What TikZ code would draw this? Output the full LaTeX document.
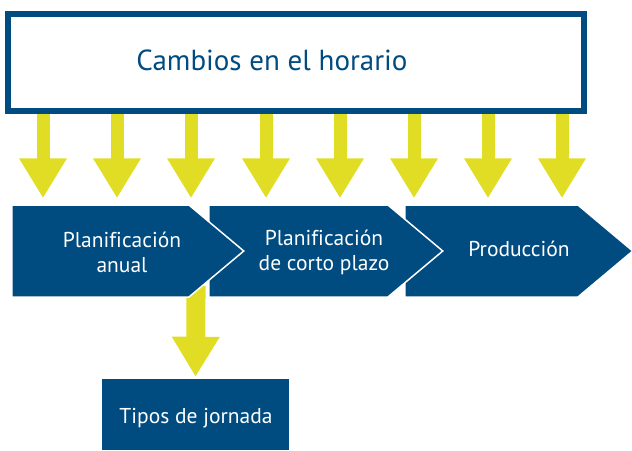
\documentclass[tikz,border=0pt]{standalone}
\usepackage{fontspec}
\setmainfont[Ligatures=NoCommon]{PT Sans}
\usetikzlibrary{shapes.symbols,arrows.meta,backgrounds}
\definecolor{planblue}{RGB}{0,75,128}
\definecolor{planyellow}{RGB}{224,221,36}

\begin{document}
\begin{tikzpicture}[x=1pt,y=-1pt,
    horario/.style ={draw=planblue, line width=6pt, fill=white, minimum width=576pt, minimum height=97pt},
    etapa/.style ={signal, signal to=east, signal pointer angle=80, fill=planblue, draw=white, line width=1.5pt,
                   minimum width=232pt, minimum height=92pt, inner sep=0pt, anchor=west},
    etiqueta/.style ={text=white, align=center, font=\fontsize{21.5}{25}\selectfont},
    tipos/.style ={rectangle, fill=planblue, minimum width=187pt, minimum height=71pt},
    flecha/.style ={draw=planyellow, line width=13pt, -{Triangle[width=45pt,length=40pt]}}]
   \useasboundingbox (0,0) rectangle (632,450);

   \node[horario] (cambios) at (296,62.5) {};
   \node[text=planblue, font=\fontsize{29}{32}\selectfont] (cambiostxt) at (272,60) {Cambios en el horario};

   \node[etapa, minimum width=228pt] (produccion) at (404,251) {};
   \node[etapa, minimum width=234pt] (corto) at (208,251) {};
   \node[etapa] (anual) at (11,251) {};
   \node[etiqueta] (producciontxt) at (519,249) {Producción};
   \node[etiqueta] (cortotxt) at (324,252) {Planificación\\de corto plazo};
   \node[etiqueta] (anualtxt) at (122,252) {Planificación\\anual};
   \node[tipos] (jornada) at (195.5,414.5) {};
   \node[etiqueta] (jornadatxt) at (196,418) {Tipos de jornada};

   \foreach \x/\etapa in {43/anual,117/anual,191/anual,266/corto,340/corto,414/produccion,488/produccion,562/produccion}
      \draw[flecha, shorten >=6pt] (\x,0 |- cambios.south) -- (\x,0 |- \etapa.north);

   \begin{pgfonlayer}{background}
      \draw[flecha, line width=19pt, shorten <=-12pt, shorten >=2pt] (196,0 |- anual.south) -- (jornada.north);
   \end{pgfonlayer}
 \end{tikzpicture}
\end{document}
